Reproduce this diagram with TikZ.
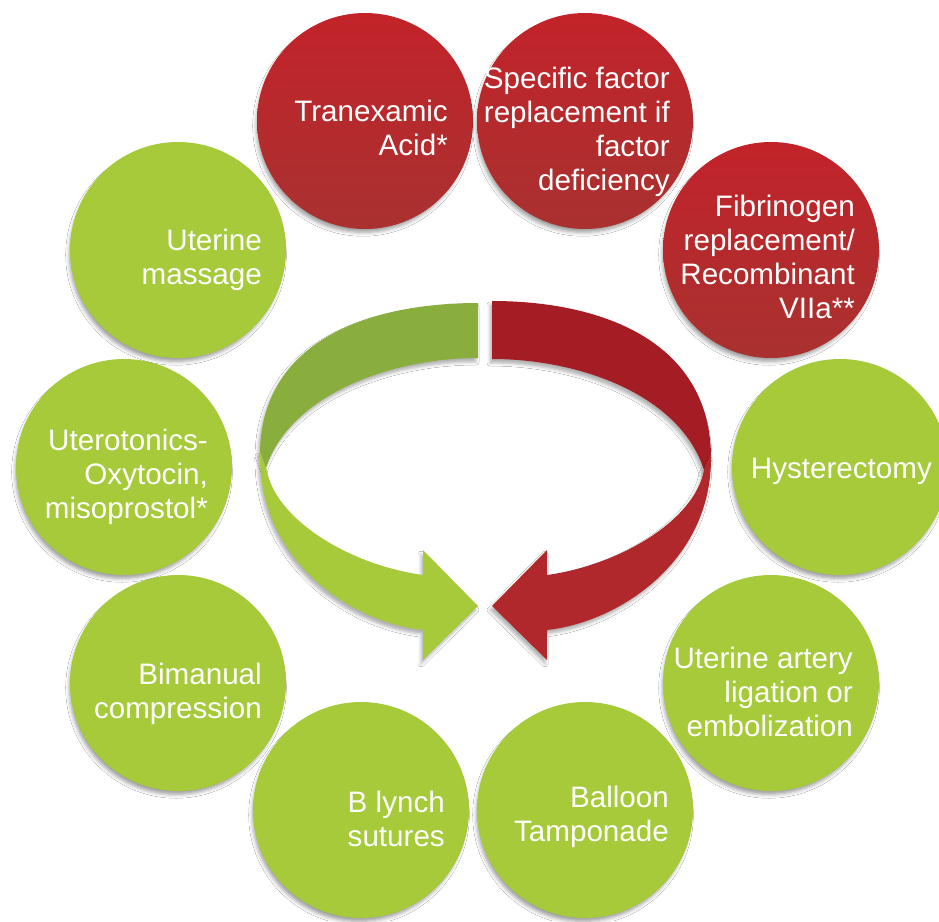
\documentclass[tikz,border=0pt]{standalone}
\usepackage{fontspec}
\setmainfont{Liberation Sans}
\usetikzlibrary{shadows.blur}
\definecolor{lgreen}{HTML}{A6CA3A}
\definecolor{dgreen}{HTML}{89AE3E}
\definecolor{rtop}{HTML}{C22329}
\definecolor{rbot}{HTML}{A93130}
\definecolor{darrred}{HTML}{A51D24}
\definecolor{larrred}{HTML}{B0282B}
\begin{document}
\begin{tikzpicture}[x=1pt,y=-1pt,
  shd/.style={blur shadow={shadow xshift=-2pt, shadow yshift=-5pt, shadow scale=0.985, shadow blur radius=4pt, shadow opacity=40}},
  ashd/.style={blur shadow={shadow xshift=-2pt, shadow yshift=-4pt, shadow blur radius=3pt, shadow opacity=30}},
  circ/.style={circle, minimum size=216pt, inner sep=0pt, shd},
  gcirc/.style={circ, fill=lgreen},
  rcirc/.style={circ, top color=rtop, bottom color=rbot},
  ltxt/.style={anchor=east, inner sep=0pt, align=right, text=white, font=\fontsize{29.6}{34}\selectfont}]
\useasboundingbox (0,0) rectangle (939,921);
\clip (0,0) rectangle (939,921);
\fill[white] (0,0) rectangle (939,921);

% circles
\node[rcirc] (c1) at (365,121) {};
\node[rcirc] (c2) at (585,121) {};
\node[rcirc] (c3) at (771,250) {};
\node[gcirc] (c4) at (840,467) {};
\node[gcirc] (c5) at (771,683) {};
\node[gcirc] (c6) at (585,810) {};
\node[gcirc] (c7) at (361,810) {};
\node[gcirc] (c8) at (178,683) {};
\node[gcirc] (c9) at (124,467) {};
\node[gcirc] (c10) at (178,250) {};

% texts
\node[ltxt] (t1) at (448,127.5) {Tranexamic\\Acid*};
\node[ltxt] (t2) at (670,132) {Specific factor\\replacement if\\factor\\deficiency};
\node[ltxt] (t3) at (855,256.5) {Fibrinogen\\replacement/\\Recombinant\\VIIa**};
\node[ltxt] (t4) at (932,471) {Hysterectomy};
\node[ltxt] (t5) at (853,691.5) {Uterine artery\\ligation or\\embolization};
\node[ltxt] (t6) at (669,817) {Balloon\\Tamponade};
\node[ltxt] (t7) at (445,818.5) {B lynch\\sutures};
\node[ltxt] (t8) at (262,694) {Bimanual\\compression};
\node[ltxt] (t9) at (208,477) {Uterotonics-\\Oxytocin,\\misoprostol*};
\node[ltxt] (t10) at (262,259.5) {Uterine\\massage};

% green circular arrow
\fill[dgreen, ashd] (478,303) -- (478,358) .. controls (390,358) and (290,395) .. (266,468)
  -- (260,452) .. controls (262,340) and (370,303) .. (478,303) -- cycle;
\fill[lgreen, ashd] (260,452) .. controls (258,560) and (350,622) .. (423,630)
  -- (423,660) -- (478,606) -- (423,550) -- (423,575)
  .. controls (350,565) and (275,520) .. (266,468) -- cycle;

% red circular arrow
\fill[darrred, ashd] (492,301) -- (492,359) .. controls (580,359) and (680,395) .. (704,470)
  -- (711,455) .. controls (709,340) and (600,301) .. (492,301) -- cycle;
\fill[larrred, ashd] (711,455) .. controls (713,560) and (620,622) .. (547,630)
  -- (547,660) -- (492,606) -- (547,550) -- (547,575)
  .. controls (620,565) and (695,520) .. (704,470) -- cycle;
\end{tikzpicture}
\end{document}
